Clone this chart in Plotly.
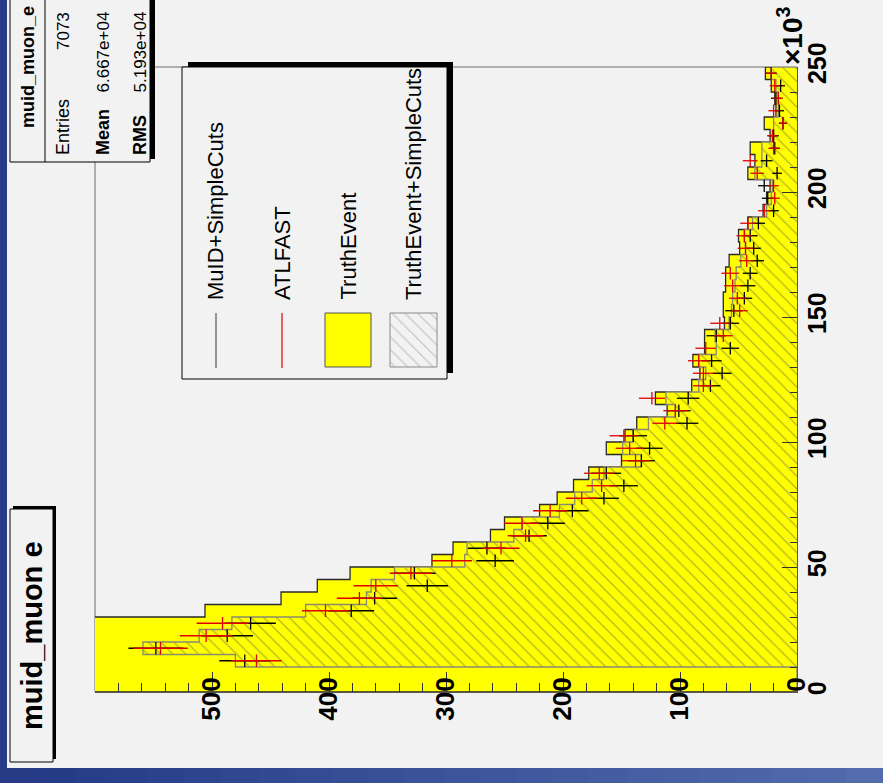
import plotly.graph_objects as go

# ---------------- data (energy bins of 5 x10^3, 0..250) ----------------
bin_lo = list(range(0, 250, 5))
BIN_HALF = 2.5
E_MAX = 250

truth = [610, 650, 700, 690, 660, 620, 506, 441, 410, 382,
         312, 294, 262, 250, 220, 205, 191, 178, 150, 163,
         147, 137, 111, 121, 90, 83, 89, 79, 79, 62,
         63, 63, 61, 61, 58, 49, 50, 42, 29, 26,
         23, 42, 36, 40, 23, 28, 18, 19, 22, 27]

truth_cuts = [0, 0, 480, 559, 511, 483, 420, 368, 364, 344,
              284, 282, 242, 235, 203, 190, 175, 165, 133, 149,
              140, 127, 104, 112, 84, 78, 84, 69, 70, 58,
              56, 55, 53, 52, 48, 44, 45, 38, 26, 22,
              21, 36, 30, 30, 20, 20, 16, 16, 18, 22]

atlfast = [None, None, 462, 544, 505, 491, 403, 374, 360, 330,
           295, 253, 232, 235, 211, 184, 167, 169, 138, 143,
           148, 113, 104, 124, 80, 80, 84, 78, 63, 66,
           49, 51, 55, 57, 43, 44, 45, 42, 28, 19,
           20, 34, 40, 20, 21, 12, 20, 16, 19, 22]

muid = [None, None, 472, 548, 487, 467, 381, 361, 316, 327,
        258, 265, 229, 213, 192, 165, 148, 163, 133, 126,
        140, 94, 101, 93, 74, 64, 73, 57, 69, 57,
        54, 45, 42, 40, 34, 37, 40, 33, 20, 25,
        28, 17, 26, 19, 20, 12, 15, 18, 14, 22]

count_ticks = [0, 100, 200, 300, 400, 500]
energy_ticks = [0, 50, 100, 150, 200, 250]

legend_labels = ["MuID+SimpleCuts", "ATLFAST", "TruthEvent", "TruthEvent+SimpleCuts"]
stats = [("Entries", "7073"), ("Mean", "6.667e+04"), ("RMS", "5.193e+04")]
hist_name = "muid_muon_e"
title_text = "muid_muon e"

# ---------------- layout geometry (pixels) ----------------
W, H = 883, 783
PL, PR, PT, PB = 95, 797, 67, 692
FONT = "Liberation Sans, Arial, Helvetica, sans-serif"
YELLOW = "#ffff00"
BG = "#f2f2f2"


def px(x):
    return (x - PL) / (PR - PL)


def py(y):
    return (PB - y) / (PB - PT)


def step_xy(vals):
    xs, ys = [0], [0]
    for e, v in zip(bin_lo, vals):
        xs.append(v)
        ys.append(e)
    xs += [vals[-1], 0]
    ys += [E_MAX, E_MAX]
    return xs, ys


fig = go.Figure()

# TruthEvent (yellow)
tx, ty = step_xy(truth)
fig.add_trace(go.Scatter(x=tx, y=ty, mode="lines", line=dict(color="#2a2a2a", width=1.3, shape="vh"),
                         fill="toself", fillcolor=YELLOW, hoverinfo="skip", showlegend=False))

# TruthEvent+SimpleCuts (hatched)
hx, hy = step_xy(truth_cuts)
fig.add_trace(go.Scatter(x=hx, y=hy, mode="lines", line=dict(color="#8a8a70", width=1.3, shape="vh"),
                         fill="toself", fillcolor=YELLOW,
                         fillpattern=dict(shape="\\", fgcolor="#6a6a40", bgcolor=YELLOW, size=9, solidity=0.14),
                         hoverinfo="skip", showlegend=False))


def cross_trace(vals, color):
    xs, ys, errs = [], [], []
    for e, v in zip(bin_lo, vals):
        if v is None:
            continue
        xs.append(v)
        ys.append(e + BIN_HALF)
        errs.append(v ** 0.5)
    return go.Scatter(x=xs, y=ys, mode="markers", marker=dict(size=2, color=color, opacity=0),
                      error_x=dict(type="data", array=errs, visible=True, color=color, thickness=1.3, width=0),
                      error_y=dict(type="constant", value=BIN_HALF, visible=True, color=color, thickness=1.3, width=0),
                      hoverinfo="skip", showlegend=False)


fig.add_trace(cross_trace(muid, "#000000"))
fig.add_trace(cross_trace(atlfast, "#e00000"))

# legend hatched sample (pixel-space overlay axes)
lx0, lx1, ly0, ly1 = 390, 437, 313, 367
fig.add_trace(go.Scatter(x=[lx0, lx1, lx1, lx0, lx0], y=[ly0, ly0, ly1, ly1, ly0], xaxis="x2", yaxis="y2",
                         mode="lines", line=dict(color="#8a8a8a", width=1), fill="toself", fillcolor=BG,
                         fillpattern=dict(shape="\\", fgcolor="#8a8a8a", bgcolor=BG, size=9, solidity=0.12),
                         hoverinfo="skip", showlegend=False))

shapes = []
# blue frame decoration
shapes.append(dict(type="rect", xref="paper", yref="paper", x0=px(0), x1=px(7), y0=py(H), y1=py(0),
                   fillcolor="#263a86", line=dict(width=0), layer="below"))
NSEG = 24
for i in range(NSEG):
    f = i / (NSEG - 1)
    r = int(0x26 + f * (0x52 - 0x26))
    g = int(0x3a + f * (0x6c - 0x3a))
    b = int(0x86 + f * (0xac - 0x86))
    shapes.append(dict(type="rect", xref="paper", yref="paper",
                       x0=px(W * i / NSEG), x1=px(W * (i + 1) / NSEG + 1), y0=py(H), y1=py(768),
                       fillcolor=f"rgb({r},{g},{b})", line=dict(width=0), layer="below"))
# frame
shapes.append(dict(type="rect", xref="paper", yref="paper", x0=0, x1=1, y0=0, y1=1,
                   line=dict(color="#6a6a6a", width=1), layer="below"))
# legend box
shapes.append(dict(type="rect", xref="paper", yref="paper", x0=px(188), x1=px(453), y0=py(373), y1=py(62),
                   fillcolor="#000000", line=dict(width=0), layer="below"))
shapes.append(dict(type="rect", xref="paper", yref="paper", x0=px(182), x1=px(447), y0=py(379), y1=py(67),
                   fillcolor=BG, line=dict(color="#000000", width=1), layer="below"))
# legend symbols
shapes.append(dict(type="line", xref="paper", yref="paper", x0=px(216), x1=px(216), y0=py(313), y1=py(368),
                   line=dict(color="#555555", width=1.2), layer="above"))
shapes.append(dict(type="line", xref="paper", yref="paper", x0=px(282), x1=px(282), y0=py(313), y1=py(368),
                   line=dict(color="#e00000", width=1.2), layer="above"))
shapes.append(dict(type="rect", xref="paper", yref="paper", x0=px(325), x1=px(371), y0=py(367), y1=py(313),
                   fillcolor=YELLOW, line=dict(color="#555555", width=1), layer="above"))
# stats box
shapes.append(dict(type="rect", xref="paper", yref="paper", x0=px(13), x1=px(155), y0=py(159), y1=py(-10),
                   fillcolor="#000000", line=dict(width=0), layer="above"))
shapes.append(dict(type="rect", xref="paper", yref="paper", x0=px(10), x1=px(150), y0=py(162), y1=py(-5),
                   fillcolor=BG, line=dict(color="#000000", width=1), layer="above"))
shapes.append(dict(type="line", xref="paper", yref="paper", x0=px(45), x1=px(45), y0=py(162), y1=py(0),
                   line=dict(color="#000000", width=1), layer="above"))
# title box
shapes.append(dict(type="rect", xref="paper", yref="paper", x0=px(13), x1=px(56), y0=py(759), y1=py(506),
                   fillcolor="#000000", line=dict(width=0), layer="above"))
shapes.append(dict(type="rect", xref="paper", yref="paper", x0=px(10), x1=px(53), y0=py(762), y1=py(509),
                   fillcolor=BG, line=dict(color="#000000", width=1), layer="above"))

ann = []


def text(t, x, y, size, xa="center", ya="middle", bold=False):
    ann.append(dict(text=t, xref="paper", yref="paper", x=px(x), y=py(y), showarrow=False, textangle=-90,
                    xanchor=xa, yanchor=ya,
                    font=dict(family=FONT, size=size, color="#000000", weight="bold" if bold else "normal")))


text(title_text, 32, 636, 29, bold=True)
text(hist_name, 28, 4, 18, ya="top", bold=True)
for (k, v), xc, b in zip(stats, [63, 103, 140], [False, True, True]):
    text(k, xc, 157, 18, ya="bottom", bold=b)
    text(v, xc, 10, 17, ya="top")
for lab, xc in zip(legend_labels, [215, 282, 348, 413]):
    text(lab, xc, 302, 22, ya="bottom")
text("×10<sup>3</sup>", 790, 36, 28, bold=True)

fig.update_layout(
    width=W, height=H, autosize=False,
    margin=dict(l=PL, r=W - PR, t=PT, b=H - PB, autoexpand=False),
    paper_bgcolor=BG, plot_bgcolor="rgba(0,0,0,0)",
    showlegend=False, shapes=shapes, annotations=ann,
    xaxis=dict(range=[600, 0], tickmode="array", tickvals=count_ticks, ticktext=[str(v) for v in count_ticks],
               tickangle=-90, ticks="inside", ticklen=20, tickcolor="#333333", tickwidth=1,
               minor=dict(dtick=20, tick0=0, ticks="inside", ticklen=9, tickcolor="#333333"),
               showline=True, linecolor="#555555", linewidth=1, showgrid=False, zeroline=False,
               ticklabelstandoff=-26,
               tickfont=dict(family=FONT, size=26, color="#000000", weight="bold")),
    yaxis=dict(range=[0, E_MAX], side="right", tickmode="array", tickvals=energy_ticks,
               ticktext=[str(v) for v in energy_ticks],
               tickangle=-90, ticks="inside", ticklen=15, tickcolor="#333333", tickwidth=1,
               minor=dict(dtick=10, tick0=0, ticks="inside", ticklen=7, tickcolor="#333333"),
               showline=True, linecolor="#555555", linewidth=1, showgrid=False, zeroline=False,
               ticklabelstandoff=-2,
               tickfont=dict(family=FONT, size=25, color="#000000", weight="bold")),
    xaxis2=dict(overlaying="x", range=[PL, PR], visible=False, anchor="y2"),
    yaxis2=dict(overlaying="y", range=[PB, PT], visible=False, anchor="x2"),
)

fig.write_html("out.html", config={"displayModeBar": False},
               post_script="document.body.style.margin='0px';document.body.style.overflow='hidden';")
